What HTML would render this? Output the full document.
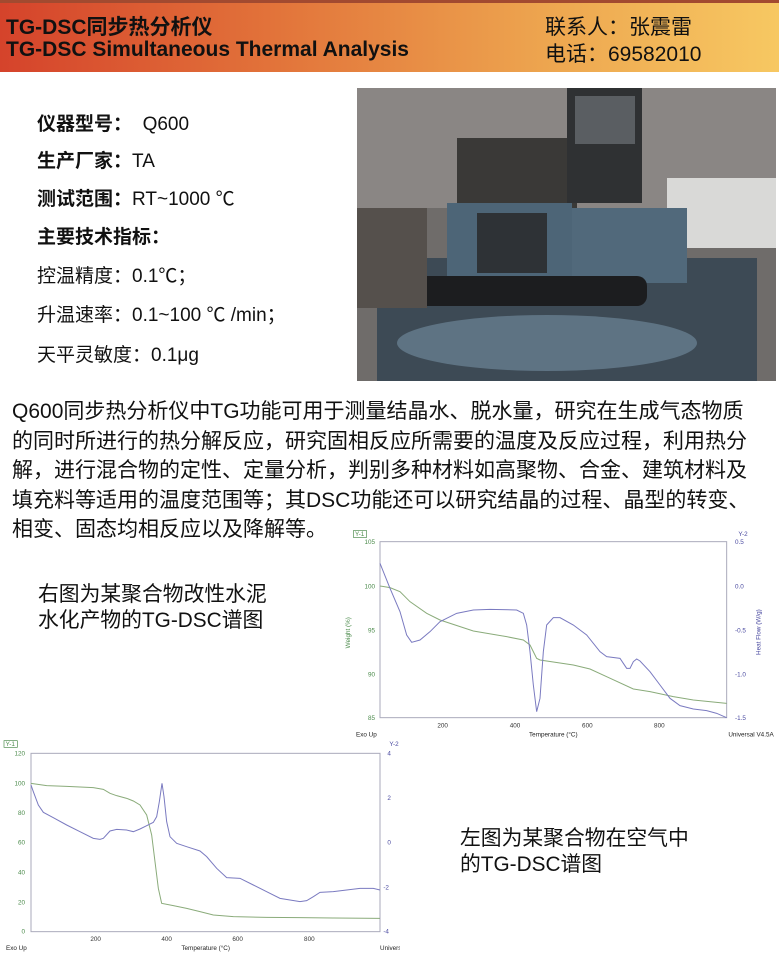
<!DOCTYPE html>
<html><head><meta charset="utf-8"><style>
body{margin:0;width:779px;height:955px;background:#fff;position:relative;overflow:hidden;font-family:"Liberation Sans","Noto Sans CJK SC",sans-serif;color:#111}
.a{position:absolute;white-space:nowrap}
#hd{position:absolute;left:0;top:0;width:779px;height:72px;background:linear-gradient(90deg,#d5432b 0%,#e2733a 35%,#eda54f 70%,#f7c862 100%);border-top:3px solid #a24a30;box-sizing:border-box}
.sp{font-size:19px}
.p{font-size:21px;left:12px}
.c{font-size:20.8px}
</style></head><body>
<div id="hd"></div>
<div class="a" style="left:6px;top:11px;font-size:21px;font-weight:bold">TG-DSC同步热分析仪</div>
<div class="a" style="left:6px;top:38px;font-size:21px;font-weight:bold">TG-DSC Simultaneous Thermal Analysis</div>
<div class="a" style="left:545px;top:11px;font-size:21px">联系人：张震雷</div>
<div class="a" style="left:545px;top:38px;font-size:21px">电话：69582010</div>

<div class="a sp" style="left:37px;top:109px"><b>仪器型号：</b> &nbsp;Q600</div>
<div class="a sp" style="left:37px;top:146px"><b>生产厂家：</b>TA</div>
<div class="a sp" style="left:37px;top:184px"><b>测试范围：</b>RT~1000 ℃</div>
<div class="a sp" style="left:37px;top:222px"><b>主要技术指标：</b></div>
<div class="a sp" style="left:37px;top:261px">控温精度：0.1℃；</div>
<div class="a sp" style="left:37px;top:300px">升温速率：0.1~100 ℃ /min；</div>
<div class="a sp" style="left:37px;top:340px">天平灵敏度：0.1μg</div>

<svg class="a" style="left:357px;top:88px" width="419" height="293" viewBox="0 0 419 293">
<rect width="419" height="293" fill="#6f6c6a"/>
<rect x="0" y="0" width="419" height="120" fill="#8a8684"/>
<rect x="100" y="50" width="120" height="80" fill="#3a3937"/>
<rect x="210" y="0" width="75" height="115" fill="#2f3133"/>
<rect x="218" y="8" width="60" height="48" fill="#5a5e62"/>
<rect x="310" y="90" width="109" height="70" fill="#d9d9d7"/>
<rect x="20" y="170" width="380" height="123" fill="#3d4a55"/>
<rect x="90" y="115" width="125" height="80" fill="#4d6577"/>
<rect x="120" y="125" width="70" height="60" fill="#2e3236"/>
<rect x="215" y="120" width="115" height="75" fill="#51697b"/>
<rect x="40" y="188" width="250" height="30" rx="10" fill="#1c1d1f"/>
<ellipse cx="190" cy="255" rx="150" ry="28" fill="#5e7383"/>
<rect x="0" y="120" width="70" height="100" fill="#55504c"/>
</svg>

<div class="a p" style="top:395px">Q600同步热分析仪中TG功能可用于测量结晶水、脱水量，研究在生成气态物质</div>
<div class="a p" style="top:424.5px">的同时所进行的热分解反应，研究固相反应所需要的温度及反应过程，利用热分</div>
<div class="a p" style="top:454px">解，进行混合物的定性、定量分析，判别多种材料如高聚物、合金、建筑材料及</div>
<div class="a p" style="top:483.5px">填充料等适用的温度范围等；其DSC功能还可以研究结晶的过程、晶型的转变、</div>
<div class="a p" style="top:513px">相变、固态均相反应以及降解等。</div>

<div class="a c" style="left:38px;top:577px">右图为某聚合物改性水泥</div>
<div class="a c" style="left:38px;top:603px">水化产物的TG-DSC谱图</div>
<div class="a c" style="left:460px;top:821px">左图为某聚合物在空气中</div>
<div class="a c" style="left:460px;top:847px">的TG-DSC谱图</div>

<svg class="a" style="left:340px;top:525px" width="439" height="215" viewBox="0 0 1317 645" font-family="Liberation Sans" font-size="19">
<rect x="120" y="50" width="1040" height="528" fill="none" stroke="#aab" stroke-width="3"/>
<rect x="40" y="17" width="40" height="20" fill="none" stroke="#4a8a4a" stroke-width="2"/>
<text x="45" y="33" fill="#4a8a4a">Y-1</text>
<text x="1195" y="33" fill="#4a4aa0">Y-2</text>
<g fill="#4a8a4a" text-anchor="end"><text x="105" y="57">105</text><text x="105" y="190">100</text><text x="105" y="322">95</text><text x="105" y="454">90</text><text x="105" y="585">85</text></g>
<g fill="#4a4aa0"><text x="1185" y="57">0.5</text><text x="1185" y="190">0.0</text><text x="1185" y="322">-0.5</text><text x="1185" y="454">-1.0</text><text x="1185" y="585">-1.5</text></g>
<g fill="#333" text-anchor="middle"><text x="308" y="608">200</text><text x="525" y="608">400</text><text x="742" y="608">600</text><text x="958" y="608">800</text></g>
<text x="48" y="635" fill="#222">Exo Up</text><text x="640" y="635" text-anchor="middle" fill="#222">Temperature (°C)</text><text x="1165" y="635" fill="#222">Universal V4.5A</text>
<text transform="translate(30,370) rotate(-90)" fill="#4a8a4a">Weight (%)</text>
<text transform="translate(1262,390) rotate(-90)" fill="#4a4aa0">Heat Flow (W/g)</text>
<polyline fill="none" stroke="#8aab7a" stroke-width="3" points="120,183 150,188 180,200 210,230 260,265 300,285 400,318 500,335 550,345 570,360 590,400 600,405 700,420 750,432 800,455 880,492 930,500 1000,515 1060,525 1160,535"/>
<polyline fill="none" stroke="#7a7ac0" stroke-width="3" points="120,115 150,190 180,260 200,330 215,352 240,345 270,320 300,290 350,265 400,255 450,253 530,255 550,265 560,300 570,380 580,480 590,560 600,520 610,380 620,300 640,278 660,278 700,300 740,330 780,380 800,395 840,400 860,430 870,430 880,410 890,402 900,408 930,440 960,480 990,520 1020,542 1060,552 1100,557 1130,565 1160,578"/>
</svg>

<svg class="a" style="left:0px;top:735px" width="400" height="220" viewBox="0 0 1200 660" font-family="Liberation Sans" font-size="19">
<rect x="93" y="55" width="1047" height="535" fill="none" stroke="#aab" stroke-width="3"/>
<rect x="12" y="17" width="40" height="20" fill="none" stroke="#4a8a4a" stroke-width="2"/>
<text x="17" y="33" fill="#4a8a4a">Y-1</text>
<text x="1168" y="33" fill="#4a4aa0">Y-2</text>
<g fill="#4a8a4a" text-anchor="end"><text x="75" y="62">120</text><text x="75" y="152">100</text><text x="75" y="240">80</text><text x="75" y="328">60</text><text x="75" y="418">40</text><text x="75" y="508">20</text><text x="75" y="596">0</text></g>
<g fill="#4a4aa0"><text x="1162" y="62">4</text><text x="1162" y="195">2</text><text x="1162" y="328">0</text><text x="1150" y="463">-2</text><text x="1150" y="596">-4</text></g>
<g fill="#333" text-anchor="middle"><text x="287" y="618">200</text><text x="500" y="618">400</text><text x="713" y="618">600</text><text x="928" y="618">800</text></g>
<text x="18" y="645" fill="#222">Exo Up</text><text x="617" y="645" text-anchor="middle" fill="#222">Temperature (°C)</text><text x="1140" y="645" fill="#222">Universal V4.5A</text>
<polyline fill="none" stroke="#8aab7a" stroke-width="3" points="93,145 140,152 200,154 280,158 310,163 330,175 350,182 380,190 400,198 420,210 440,240 455,300 465,380 475,460 485,505 520,512 560,520 600,530 640,540 700,545 800,547 900,548 1000,549 1140,550"/>
<polyline fill="none" stroke="#7a7ac0" stroke-width="3" points="93,150 100,170 115,210 130,232 160,248 200,270 240,290 280,310 300,313 310,310 330,288 350,283 380,285 400,290 420,282 440,272 460,262 470,245 478,200 486,145 492,185 500,260 510,305 530,325 560,335 600,348 620,365 650,400 680,428 720,430 760,450 800,470 840,490 870,495 900,500 920,497 940,485 960,472 1000,470 1040,465 1080,460 1120,460 1140,465"/>
</svg>
</body></html>
